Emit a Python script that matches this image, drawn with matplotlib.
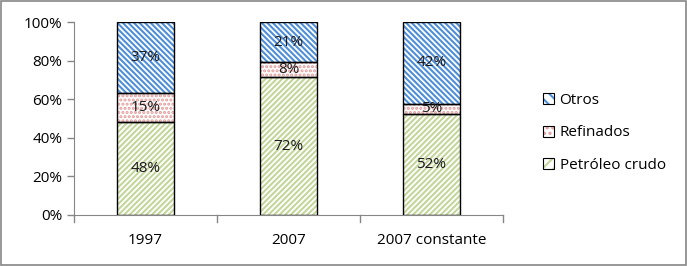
import matplotlib
matplotlib.use("Agg")
import matplotlib.pyplot as plt
from matplotlib.patches import Patch, Rectangle
from matplotlib.legend_handler import HandlerBase
import numpy as np

categories = ["1997", "2007", "2007 constante"]
series_names = ["Petróleo crudo", "Refinados", "Otros"]
crudo = [48, 72, 52]
refinados = [15, 8, 5]
otros = [37, 21, 42]
yticklabels = ["0%", "20%", "40%", "60%", "80%", "100%"]

plt.rcParams['font.family'] = ['Open Sans', 'DejaVu Sans']
plt.rcParams['hatch.linewidth'] = 1.5

fig = plt.figure(figsize=(6.87, 2.66), dpi=100)
ax = fig.add_axes([0.1077, 0.192, 0.732 - 0.1077, 0.917 - 0.192])

data = np.array([crudo, refinados, otros], dtype=float)
totals = data.sum(axis=0)
norm = data / totals * 100

hatches = ['//////', '....', '\\\\\\\\\\\\']
hcolors = ['#C3D69B', '#E39A9A', '#4F8ED8']
x = np.arange(len(categories))
width = 0.4
bottom = np.zeros(len(categories))
fs = 11
for i in range(3):
    ax.bar(x, norm[i], width, bottom=bottom, color='white', edgecolor=hcolors[i],
           hatch=hatches[i], linewidth=0, zorder=2)
    ax.bar(x, norm[i], width, bottom=bottom, fill=False, edgecolor='black',
           linewidth=1.0, zorder=3)
    for j in range(len(categories)):
        ax.text(x[j], bottom[j] + norm[i][j] / 2, f"{int(data[i][j])}%",
                ha='center', va='center', fontsize=fs, color='#1a1a1a', zorder=4)
    bottom += norm[i]

ax.set_xlim(-0.5, len(categories) - 0.5)
ax.set_ylim(0, 100)
ax.set_yticks([0, 20, 40, 60, 80, 100])
ax.set_yticklabels(yticklabels, fontsize=fs)
ax.set_xticks(x)
ax.set_xticklabels(categories, fontsize=fs)
ax.tick_params(axis='x', length=0, pad=13)
for b in [0.5, 1.5, 2.5, -0.5]:
    ax.plot([b, b], [0, -3.5], color='#868686', lw=1, clip_on=False, zorder=1)
ax.tick_params(axis='y', length=5, color='#868686', width=1)
for s in ['top', 'right']:
    ax.spines[s].set_visible(False)
for s in ['left', 'bottom']:
    ax.spines[s].set_color('#868686')


class HatchBoxHandler(HandlerBase):
    def __init__(self, hatch, color):
        super().__init__()
        self.hatch = hatch
        self.color = color

    def create_artists(self, legend, orig_handle, xdescent, ydescent, width, height,
                       fontsize, trans):
        r1 = Rectangle((-xdescent, -ydescent), width, height, facecolor='white',
                       edgecolor=self.color, hatch=self.hatch, linewidth=0, transform=trans)
        r2 = Rectangle((-xdescent, -ydescent), width, height, fill=False,
                       edgecolor='black', linewidth=0.8, transform=trans)
        return [r1, r2]


handles = [Patch(label=n) for n in series_names]
hmap = {handles[i]: HatchBoxHandler('\\\\\\' if i == 2 else ('...' if i == 1 else '///'),
                                    hcolors[i]) for i in range(3)}
leg = fig.legend(handles[::-1], series_names[::-1], loc='center left',
                 bbox_to_anchor=(0.77, 0.50), frameon=False, fontsize=fs,
                 handlelength=0.75, handleheight=0.75, labelspacing=1.15, handletextpad=0.35,
                 handler_map=hmap)

fig.patches.append(Rectangle((0.002, 0.004), 0.996, 0.992, transform=fig.transFigure,
                             fill=False, edgecolor='#868686', lw=1.2))
fig.savefig("out.png", dpi=100)
